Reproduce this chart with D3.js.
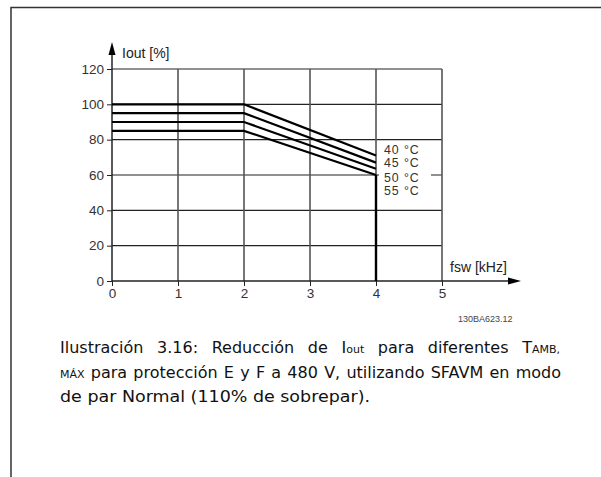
<!DOCTYPE html>
<html>
<head>
<meta charset="utf-8">
<script src="https://cdn.jsdelivr.net/npm/d3@7"></script>
<style>
  html, body { margin: 0; padding: 0; background: #fff; }
  svg { display: block; }
</style>
</head>
<body>
<svg id="chart" width="601" height="477"></svg>
<script>
// Derating curves: output current vs switching frequency at four ambient temperatures
const temperatures = ["40 °C", "45 °C", "50 °C", "55 °C"];
const fswPoints = [0, 2, 4];
const iout40 = [100, 100, 71];
const iout45 = [95, 95, 67];
const iout50 = [90, 90, 63.5];
const iout55 = [85, 85, 60];
const xTicks = [0, 1, 2, 3, 4, 5];
const yTicks = [0, 20, 40, 60, 80, 100, 120];
const figureCode = "130BA623.12";

const series = [iout40, iout45, iout50, iout55].map((vals, i) => ({
  name: temperatures[i],
  points: fswPoints.map((f, j) => ({ x: f, y: vals[j] }))
}));

const svg = d3.select("#chart");
const x = d3.scaleLinear().domain([0, 5]).range([112, 442]);
const y = d3.scaleLinear().domain([0, 120]).range([281, 69]);
const axisFont = "Liberation Sans, Arial, sans-serif";

// Page frame
svg.append("path")
  .attr("d", "M11,477 V7.5 H601")
  .attr("fill", "none").attr("stroke", "#333").attr("stroke-width", 1.5);

// Grid
const grid = svg.append("g");
grid.selectAll("line.h").data(yTicks.filter(d => d > 0)).join("line")
  .attr("x1", x(0)).attr("x2", x(5))
  .attr("y1", d => y(d)).attr("y2", d => y(d))
  .attr("stroke", "#222").attr("stroke-width", 1.1);
grid.selectAll("line.v").data(xTicks.filter(d => d > 0)).join("line")
  .attr("x1", d => x(d)).attr("x2", d => x(d))
  .attr("y1", y(120)).attr("y2", y(0))
  .attr("stroke", "#555").attr("stroke-width", 1.6);

// Axes
const yAxis = d3.axisLeft(y).tickValues(yTicks).tickFormat(d3.format("d")).tickSize(5).tickPadding(3);
const gy = svg.append("g").attr("transform", `translate(${x(0)},0)`).call(yAxis);
gy.select(".domain").remove();
gy.selectAll(".tick line").attr("stroke", "#222");
gy.selectAll(".tick text").attr("font-family", axisFont).attr("font-size", 13.5).attr("fill", "#333");

const xAxis = d3.axisBottom(x).tickValues(xTicks).tickFormat(d3.format("d")).tickSize(5).tickPadding(2);
const gx = svg.append("g").attr("transform", `translate(0,${y(0)})`).call(xAxis);
gx.select(".domain").remove();
gx.selectAll(".tick line").attr("stroke", "#222");
gx.selectAll(".tick text").attr("font-family", axisFont).attr("font-size", 13.5).attr("fill", "#333");

// Axis lines with arrowheads
svg.append("line").attr("x1", x(0)).attr("x2", x(0)).attr("y1", y(0)).attr("y2", 50)
  .attr("stroke", "#222").attr("stroke-width", 1.5);
svg.append("path").attr("d", `M${x(0)},42 L${x(0) - 3.5},55 L${x(0) + 3.5},55 Z`).attr("fill", "#000");
svg.append("line").attr("x1", x(0)).attr("x2", 514).attr("y1", y(0)).attr("y2", y(0))
  .attr("stroke", "#222").attr("stroke-width", 1.5);
svg.append("path").attr("d", `M521,${y(0)} L508,${y(0) - 3.5} L508,${y(0) + 3.5} Z`).attr("fill", "#000");

svg.append("text").attr("x", 122).attr("y", 58)
  .attr("font-family", axisFont).attr("font-size", 14).attr("fill", "#222").text("Iout [%]");
svg.append("text").attr("x", 450).attr("y", 272)
  .attr("font-family", axisFont).attr("font-size", 14).attr("fill", "#222").text("fsw [kHz]");

// Derating curves
const line = d3.line().x(d => x(d.x)).y(d => y(d.y));
svg.append("g").selectAll("path").data(series).join("path")
  .attr("d", d => line(d.points))
  .attr("fill", "none").attr("stroke", "#000").attr("stroke-width", 2.2)
  .attr("stroke-linejoin", "miter");

// Frequency limit at 4 kHz
svg.append("line")
  .attr("x1", x(4)).attr("x2", x(4))
  .attr("y1", y(d3.min(iout55))).attr("y2", y(0))
  .attr("stroke", "#000").attr("stroke-width", 2.4);

// Temperature labels on a white patch
const lblX = x(4) + 8;
svg.append("rect").attr("x", x(4) + 3).attr("y", 144).attr("width", 52).attr("height", 53).attr("fill", "#fff");
const lblY = [153.5, 166.5, 181.5, 195];
svg.append("g").selectAll("text").data(temperatures).join("text")
  .attr("x", lblX).attr("y", (d, i) => lblY[i])
  .attr("font-family", axisFont).attr("font-size", 12.4).attr("letter-spacing", 0.9).attr("fill", "#333")
  .text(d => d);

// Figure code
svg.append("text").attr("x", 458).attr("y", 322)
  .attr("font-family", axisFont).attr("font-size", 9).attr("fill", "#444").text(figureCode);

// Caption, justified by stretching the word gaps
const capFont = "DejaVu Sans, Verdana, sans-serif";
const capSize = 16;
const subSize = 11;
const cap = svg.append("g").attr("font-family", capFont).attr("font-size", capSize).attr("fill", "#111");

const l1 = cap.append("text").attr("x", 60).attr("y", 353);
l1.append("tspan").text("Ilustración 3.16: Reducción de I");
l1.append("tspan").attr("font-size", subSize).text("out");
l1.append("tspan").text(" para diferentes T");
l1.append("tspan").attr("font-size", subSize).text("AMB,");
const l2 = cap.append("text").attr("x", 60).attr("y", 377.5);
l2.append("tspan").attr("font-size", subSize).text("MÁX");
l2.append("tspan").text(" para protección E y F a 480 V, utilizando SFAVM en modo");
cap.append("text").attr("x", 60).attr("y", 402)
  .attr("textLength", 310).attr("lengthAdjust", "spacingAndGlyphs")
  .text("de par Normal (110% de sobrepar).");

function justify(sel, target) {
  const node = sel.node();
  const w = node.getComputedTextLength();
  const gaps = (node.textContent.match(/ /g) || []).length;
  if (gaps > 0 && w < target) sel.attr("word-spacing", (target - w) / gaps);
  else if (w > target) sel.attr("textLength", target).attr("lengthAdjust", "spacingAndGlyphs");
}
justify(l1, 500);
justify(l2, 501);
</script>
</body>
</html>
